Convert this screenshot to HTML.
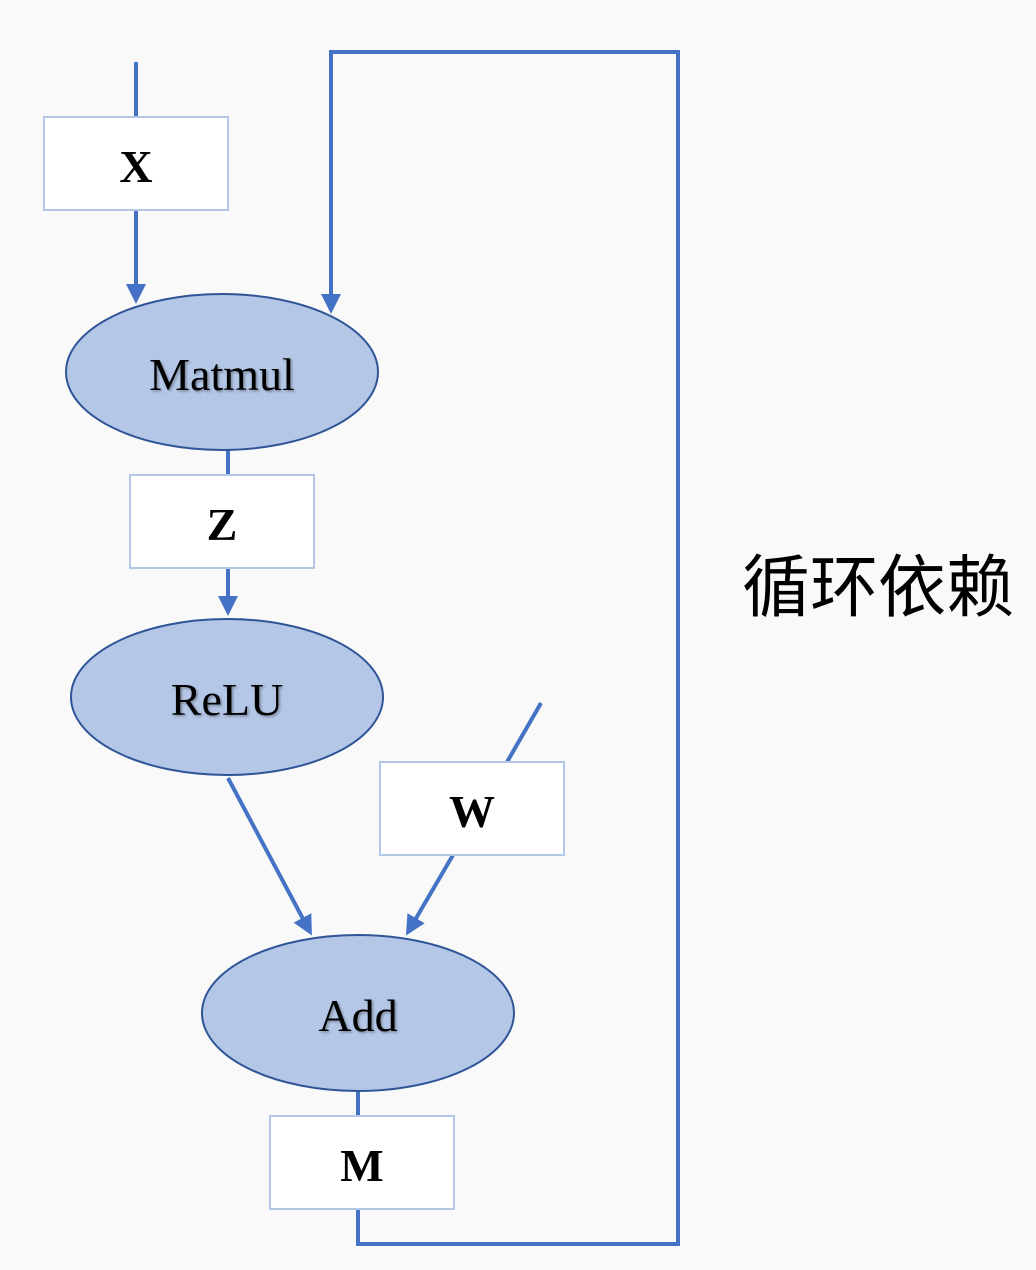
<!DOCTYPE html>
<html><head><meta charset="utf-8"><style>
html,body{margin:0;padding:0;background:#f9f9f9;}
svg{display:block;}
.t{font-family:"Liberation Serif",serif;font-size:46px;fill:#000;text-anchor:middle;}
.b{font-family:"Liberation Serif",serif;font-size:46px;font-weight:bold;fill:#000;text-anchor:middle;}
</style></head><body>
<svg width="1036" height="1270" viewBox="0 0 1036 1270" xmlns="http://www.w3.org/2000/svg">
<defs>
<marker id="a" markerWidth="5" markerHeight="5" refX="4" refY="2.5" orient="auto" markerUnits="strokeWidth">
<path d="M0,0 L5,2.5 L0,5 z" fill="#4472c4"/></marker>
<filter id="s"><feDropShadow dx="1.5" dy="1.5" stdDeviation="1.2" flood-color="#000" flood-opacity="0.35"/></filter>
</defs>
<rect width="1036" height="1270" fill="#f9f9f9"/>
<g stroke="#4472c4" stroke-width="4" fill="none">
<line x1="136" y1="62" x2="136" y2="117"/>
<line x1="136" y1="210" x2="136" y2="300" marker-end="url(#a)"/>
<polyline points="358,1209 358,1244 678,1244 678,52 331,52 331,310" marker-end="url(#a)"/>
<line x1="228" y1="450" x2="228" y2="475"/>
<line x1="228" y1="568" x2="228" y2="612" marker-end="url(#a)"/>
<line x1="228" y1="778" x2="310" y2="932" marker-end="url(#a)"/>
<line x1="541" y1="703" x2="507" y2="762"/>
<line x1="453" y1="855" x2="408" y2="932" marker-end="url(#a)"/>
<line x1="358" y1="1091" x2="358" y2="1116"/>
</g>
<g fill="#b4c7e7" stroke="#2f5597" stroke-width="2">
<ellipse cx="222" cy="372" rx="156" ry="78"/>
<ellipse cx="227" cy="697" rx="156" ry="78"/>
<ellipse cx="358" cy="1013" rx="156" ry="78"/>
</g>
<g fill="#fff" stroke="#b4c7e7" stroke-width="2">
<rect x="44" y="117" width="184" height="93"/>
<rect x="130" y="475" width="184" height="93"/>
<rect x="380" y="762" width="184" height="93"/>
<rect x="270" y="1116" width="184" height="93"/>
</g>
<g filter="url(#s)">
<text class="t" x="222" y="390">Matmul</text>
<text class="t" x="227" y="715">ReLU</text>
<text class="t" x="358" y="1031">Add</text>
</g>
<text class="b" x="136" y="182">X</text>
<text class="b" x="222" y="540">Z</text>
<text class="b" x="472" y="827">W</text>
<text class="b" x="362" y="1181">M</text>
<text x="742" y="611" style="font-family:'Liberation Sans','Noto Sans CJK SC',sans-serif;font-size:68px;fill:#000;">循环依赖</text>
</svg>
</body></html>
